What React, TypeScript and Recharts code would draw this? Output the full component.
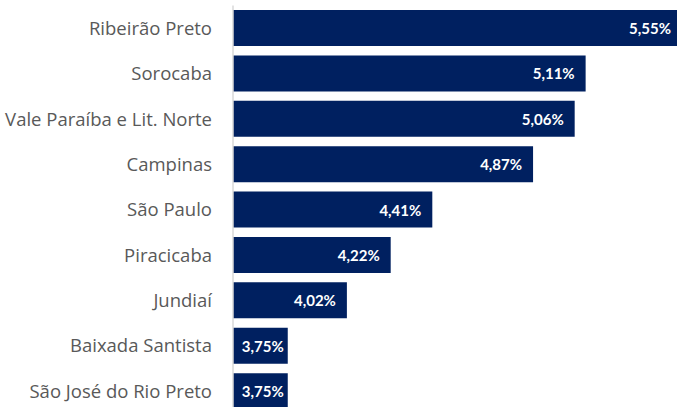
import { BarChart, Bar, XAxis, YAxis, LabelList } from 'recharts';

const regions = [
  'Ribeirão Preto',
  'Sorocaba',
  'Vale Paraíba e Lit. Norte',
  'Campinas',
  'São Paulo',
  'Piracicaba',
  'Jundiaí',
  'Baixada Santista',
  'São José do Rio Preto',
];

const growth = [5.55, 5.11, 5.06, 4.87, 4.41, 4.22, 4.02, 3.75, 3.75];

const data = regions.map((name, i) => ({ name, value: growth[i] }));

const fmt = (v: number) => v.toFixed(2).replace('.', ',') + '%';

// white value label at the inner end of the bar, kept inside short bars
const ValueLabel = (props: any) => {
  const { x, y, width, height, value } = props;
  const textW = 46;
  let right = x + width - 11;
  if (right - textW < x + 3) right = x + width - 4;
  return (
    <text
      x={right}
      y={y + height / 2}
      textAnchor="end"
      dominantBaseline="central"
      fill="#ffffff"
      fontWeight="bold"
      fontSize={15}
      fontFamily="Lato, 'Open Sans', sans-serif"
    >
      {fmt(value)}
    </text>
  );
};

export default function App() {
  return (
    <div style={{ position: 'fixed', left: 0, top: 0, width: 677, height: 407, overflow: 'hidden', background: '#fff' }}>
      <BarChart
        width={682}
        height={414}
        layout="vertical"
        data={data}
        margin={{ top: 5.5, right: 0, bottom: 0, left: 0 }}
        barCategoryGap="10%"
      >
        <XAxis type="number" domain={[3.5, 5.55]} hide height={0} />
        <YAxis
          type="category"
          dataKey="name"
          width={233}
          axisLine={{ stroke: '#d9d9d9', strokeWidth: 1.5 }}
          tickLine={false}
          tickSize={0}
          tickMargin={21}
          tick={{ fill: '#595959', fontSize: 18.5, fontFamily: "'Open Sans', sans-serif" }}
          interval={0}
        />
        <Bar dataKey="value" fill="#002060" isAnimationActive={false}>
          <LabelList dataKey="value" content={ValueLabel} />
        </Bar>
      </BarChart>
    </div>
  );
}
